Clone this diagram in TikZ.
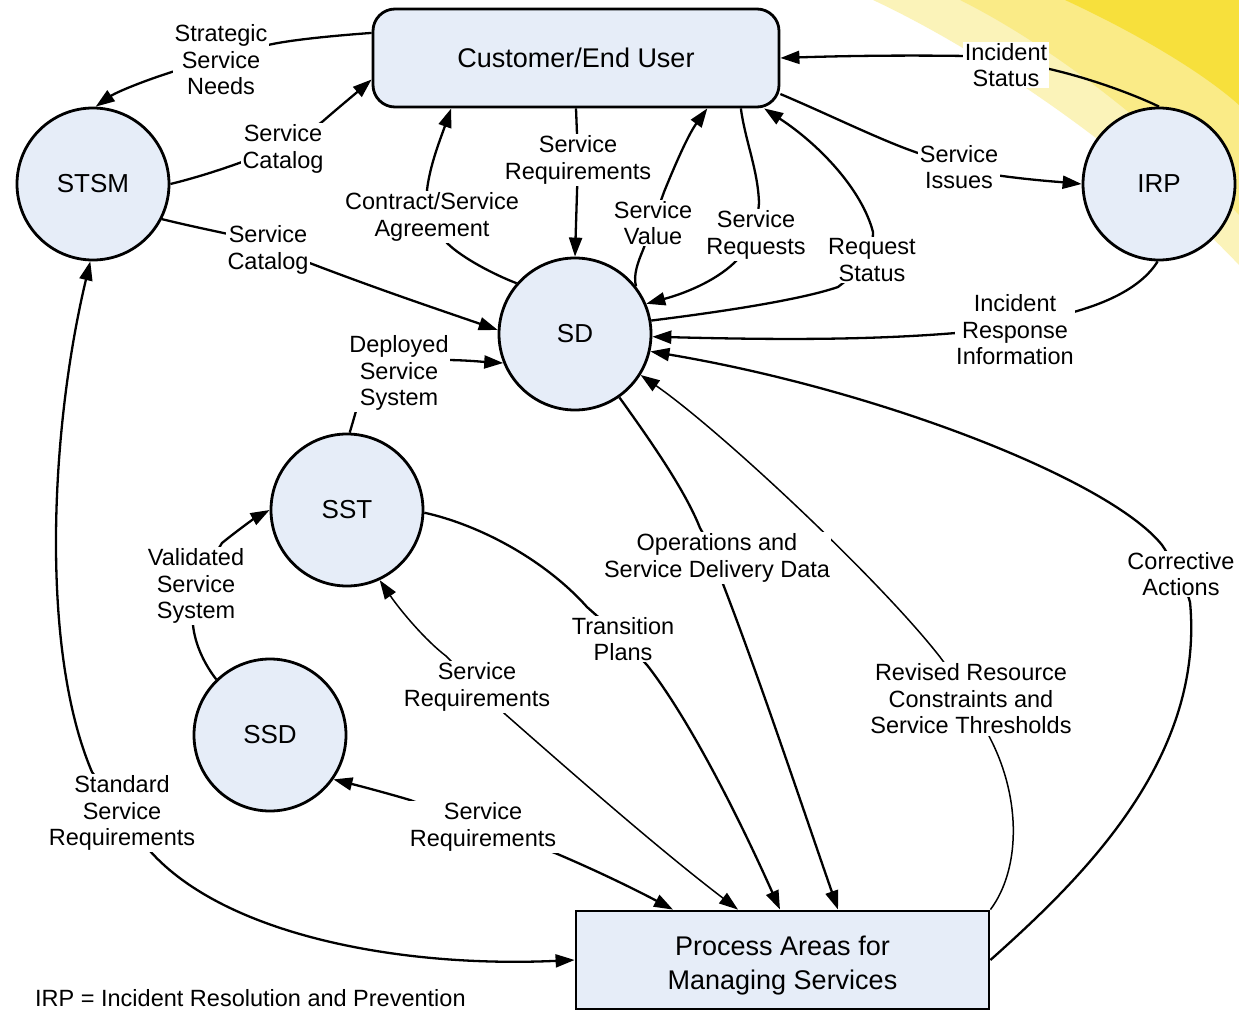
\documentclass[tikz,border=0pt]{standalone}
\usepackage{fontspec}
\setmainfont{Liberation Sans}
\usetikzlibrary{arrows.meta,calc}
\pgfdeclarelayer{sun}
\pgfdeclarelayer{edges}
\pgfsetlayers{sun,edges,main}
\definecolor{nodefill}{RGB}{230,237,248}
\definecolor{sunpale}{RGB}{251,243,185}
\definecolor{sunmid}{RGB}{250,235,135}
\definecolor{sundeep}{RGB}{247,224,60}
\begin{document}
\begin{tikzpicture}[x=1pt,y=-1pt,
  proc/.style={circle,draw,line width=2.8pt,fill=nodefill,minimum size=152pt,inner sep=0pt,font=\fontsize{26}{30}\selectfont},
  boxnode/.style={draw,line width=2.8pt,fill=nodefill,minimum width=406pt,minimum height=98pt,inner sep=0pt,align=center},
  lab/.style={fill=white,align=center,inner sep=1.5pt,font=\fontsize{23.5}{26.5}\selectfont},
  flow/.style={line width=2.3pt,-{Triangle[length=19pt,width=13pt]}},
  dflow/.style={line width=2.3pt,{Triangle[length=19pt,width=13pt]}-{Triangle[length=19pt,width=13pt]}},
  thinflow/.style={line width=1.5pt},
]
\useasboundingbox (0,0) rectangle (1239,1011);
\begin{pgfonlayer}{sun}
  \fill[white] (0,0) rectangle (1239,1011);
  \fill[sunpale] (873,0) .. controls (980,50) and (1130,150) .. (1239,265) -- (1239,0) -- cycle;
  \fill[sunmid] (960,0) .. controls (1060,50) and (1170,140) .. (1239,215) -- (1239,0) -- cycle;
  \fill[sundeep] (1065,0) .. controls (1130,30) and (1200,70) .. (1239,105) -- (1239,0) -- cycle;
\end{pgfonlayer}

% main nodes
\node[boxnode,rounded corners=22pt,font=\fontsize{27}{32}\selectfont] (cust) at (576,58) {Customer/End User};
\node[proc] (stsm) at (93,184) {STSM};
\node[proc] (irp) at (1159,184) {IRP};
\node[proc] (sd) at (575,334) {SD};
\node[proc] (sst) at (347,510) {SST};
\node[proc] (ssd) at (270,735) {SSD};
\node[boxnode,minimum width=413pt,font=\fontsize{27}{34}\selectfont] (pam) at (782.5,960) {\rule{0pt}{31pt}Process Areas for\\Managing Services};

% labels
\node[lab] (l1) at (221,60) {Strategic\\Service\\Needs};
\node[lab] (l2) at (283,149) {Service\\Catalog};
\node[lab] (l3) at (268,250) {Service\\Catalog};
\node[lab] (l4) at (432,217) {Contract/Service\\Agreement};
\node[lab] (l5) at (578,160) {Service\\Requirements};
\node[lab] (l6) at (653,223) {Service\\Value};
\node[lab] (l7) at (756,235) {Service\\Requests};
\node[lab] (l8) at (872,260) {Request\\Status};
\node[lab] (l9) at (1006,65) {Incident\\Status};
\node[lab] (l10) at (959,167) {Service\\Issues};
\node[lab] (l11) at (1015,330) {Incident\\Response\\Information};
\node[lab] (l12) at (399,373) {Deployed\\Service\\System};
\node[lab] (l13) at (196,586) {Validated\\Service\\System};
\node[lab] (l14) at (717,558) {Operations and\\Service Delivery Data};
\node[lab] (l15) at (623,639) {Transition\\Plans};
\node[lab] (l16) at (477,687) {Service\\Requirements};
\node[lab] (l17) at (971,699) {Revised Resource\\Constraints and\\Service Thresholds};
\node[lab] (l18) at (1181,574) {Corrective\\Actions};
\node[lab] (l19) at (122,813) {Standard\\Service\\Requirements};
\node[lab] (l20) at (483,827) {Service\\Requirements};

\node[anchor=base west,inner sep=0pt,font=\fontsize{23.5}{26.5}\selectfont] (foot) at (35,1006) {IRP = Incident Resolution and Prevention};

\begin{pgfonlayer}{edges}
  % Strategic Service Needs
  \draw[flow] (cust.173) .. controls (330,36) and (290,40) .. (268,45) -- (l1.center) -- (175,71) .. controls (140,82) and (115,93) .. (stsm.88);
  % Service Catalog (upper)
  \draw[flow] (stsm.0) .. controls (195,178) and (220,170) .. (242,162) -- (l2.center) -- (322,122) .. controls (338,108) and (355,94) .. (cust.186);
  % Service Catalog (lower)
  \draw[flow] (stsm.-27) .. controls (190,226) and (210,230) .. (228,234) -- (l3.center) -- (307,262) .. controls (380,290) and (440,310) .. (sd.177);
  % Contract/Service Agreement
  \draw[flow] (sd.139) .. controls (495,275) and (462,258) .. (447,243) -- (l4.center) -- (427,190) .. controls (430,165) and (440,140) .. (cust.202.5);
  % Service Requirements (top)
  \draw[flow] (cust.south) -- (l5.center) -- (sd.north);
  % Service Value
  \draw[flow] (sd.38) .. controls (633,275) and (638,262) .. (643,250) -- (l6.center) -- (664,192) .. controls (675,165) and (688,135) .. (cust.-21.9);
  % Service Requests
  \draw[flow] (cust.-17.65) .. controls (745,140) and (758,170) .. (759,203) -- (l7.center) -- (737,260) .. controls (720,278) and (690,292) .. (sd.23.7);
  % Request Status
  \draw[flow] (sd.10) .. controls (720,312) and (800,300) .. (838,287) -- (l8.center) -- (873,232) .. controls (862,190) and (820,145) .. (cust.-15);
  % Incident Status
  \draw[flow] (irp.90) .. controls (1135,95) and (1090,78) .. (1045,68) -- (l9.center) -- (966,56) .. controls (900,55) and (840,56) .. (cust.east);
  % Service Issues
  \draw[flow] (cust.-10.9) .. controls (830,115) and (880,140) .. (918,153) -- (l10.center) -- (995,175) .. controls (1030,180) and (1060,182) .. (irp.180);
  % Incident Response Information
  \draw[flow] (irp.-91) .. controls (1140,290) and (1100,305) .. (1070,313) -- (l11.center) -- (956,333) .. controls (870,340) and (780,340) .. (sd.-2);
  % Corrective Actions
  \draw[flow] (pam.east) .. controls (1080,880) and (1205,760) .. (1190,602) -- (l18.center) -- (1162,545) .. controls (1110,480) and (880,390) .. (sd.-13);
  % Revised Resource Constraints and Service Thresholds
  \draw[flow,thinflow] (pam.north east) .. controls (1020,870) and (1022,800) .. (990,738) -- (l17.center) -- (940,657) .. controls (880,580) and (720,430) .. (sd.-32);
  % Operations and Service Delivery Data
  \draw[flow] (sd.-55.7) .. controls (650,440) and (685,490) .. (700,528) -- (l14.center) -- (723,584) .. controls (760,680) and (800,800) .. ([xshift=55.5pt]pam.north);
  % Transition Plans
  \draw[flow] (sst.-2) .. controls (480,525) and (545,560) .. (587,607) -- (l15.center) -- (647,665) .. controls (690,720) and (740,820) .. ([xshift=-2.5pt]pam.north);
  % Service Requirements (middle)
  \draw[dflow,thinflow] (sst.-65) .. controls (400,610) and (425,640) .. (446,656) -- (l16.center) -- (505,714) .. controls (580,780) and (660,850) .. ([xshift=-44.5pt]pam.north);
  % Service Requirements (lower)
  \draw[dflow] (ssd.-35) .. controls (360,786) and (390,794) .. (410,800) -- (l20.center) -- (555,853) .. controls (600,872) and (640,892) .. ([xshift=-109.5pt]pam.north);
  % Standard Service Requirements
  \draw[dflow] (stsm.-92) .. controls (50,430) and (40,650) .. (92,772) -- (l19.center) -- (150,851) .. controls (225,935) and (400,968) .. (pam.west);
  % Validated Service System
  \draw[flow] (ssd.134) .. controls (205,665) and (195,645) .. (193,625) -- (l13.center) -- (222,543) .. controls (238,530) and (255,518) .. (sst.180);
  % Deployed Service System
  \draw[flow] (sst.88) .. controls (352,425) and (354,418) .. (356,411) -- (l12.center) -- (445,360) .. controls (465,360) and (485,362) .. (sd.202);
\end{pgfonlayer}
\end{tikzpicture}
\end{document}
